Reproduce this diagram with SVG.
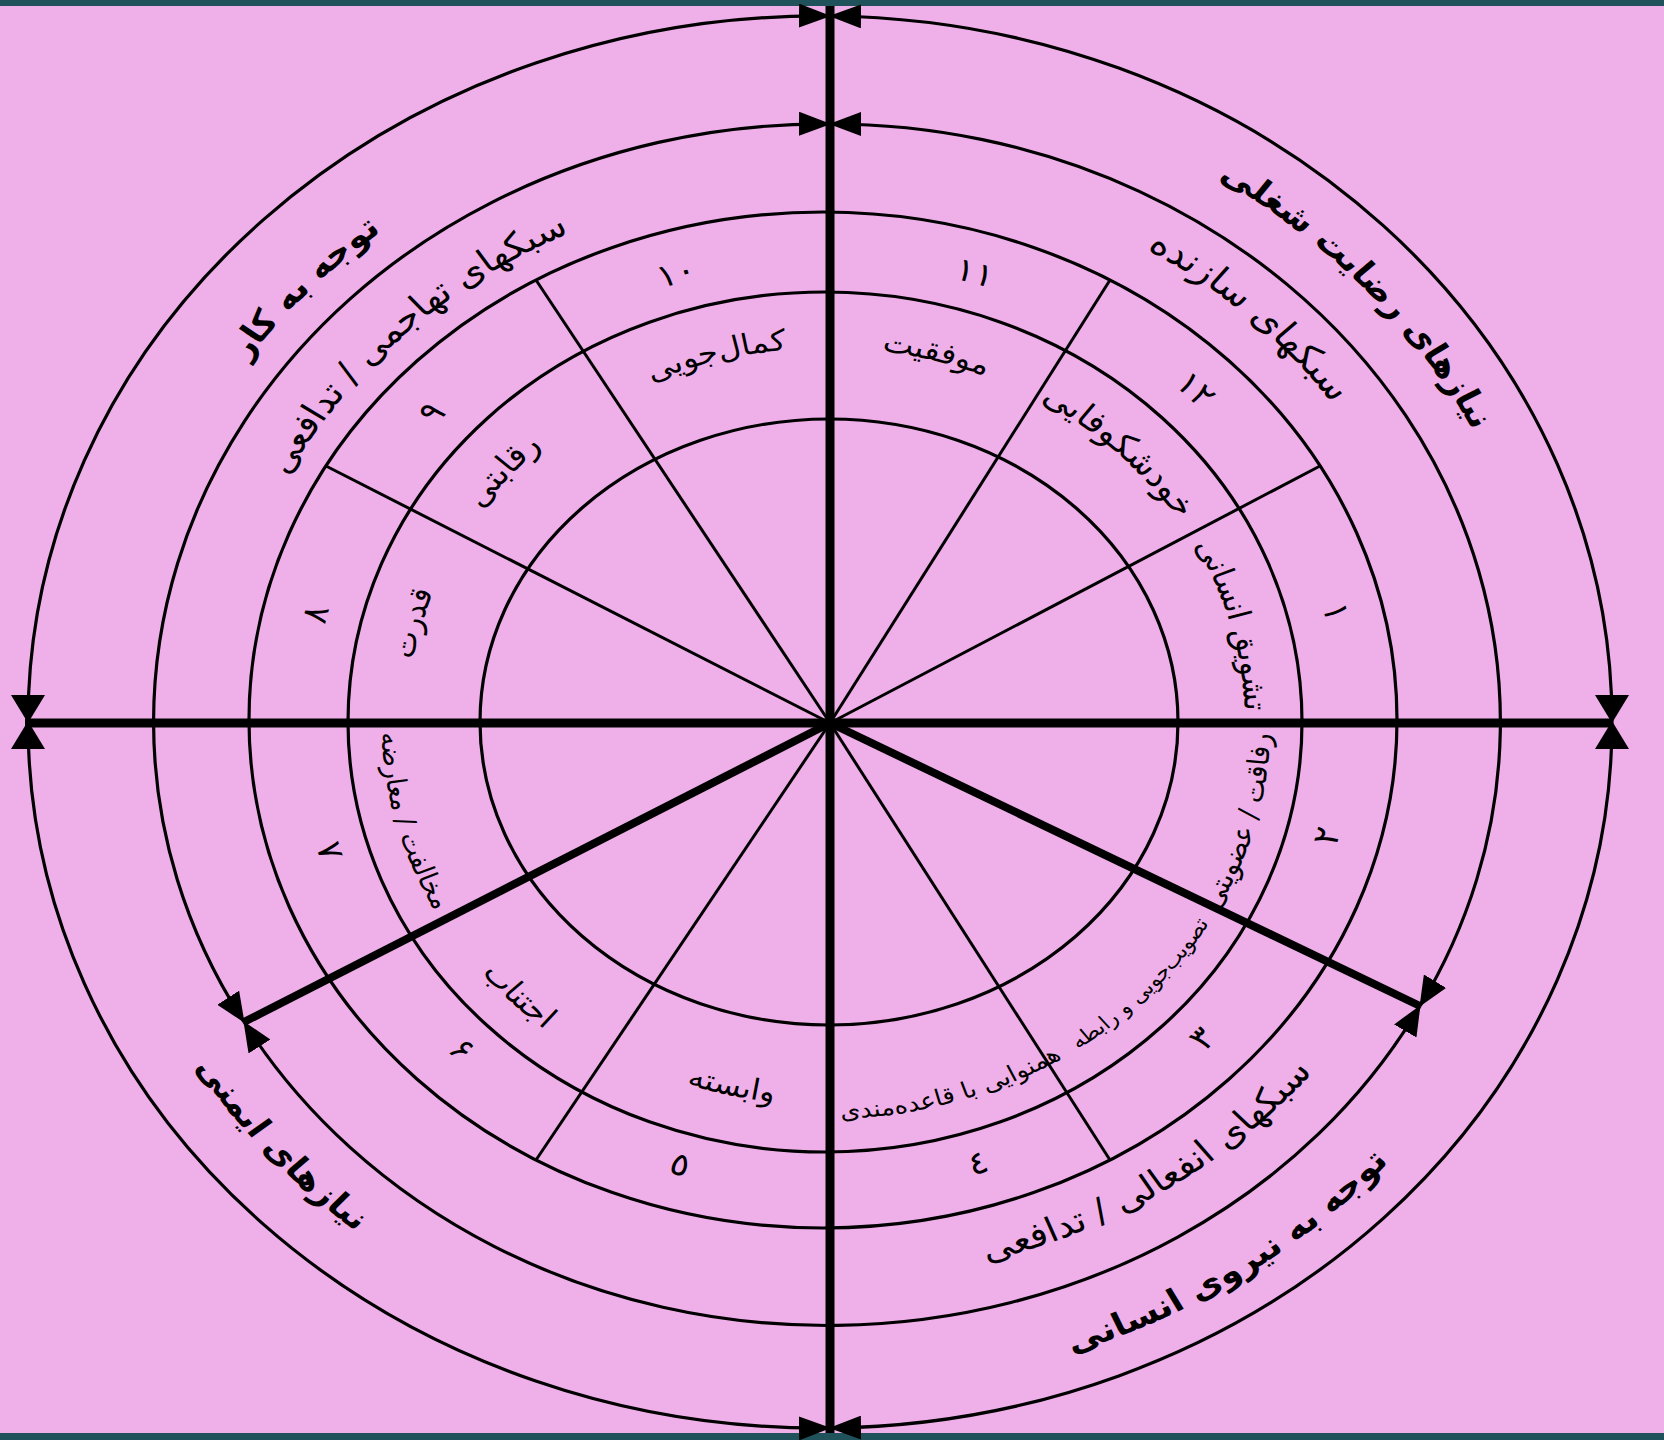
<svg xmlns="http://www.w3.org/2000/svg" width="1664" height="1440" viewBox="0 0 1664 1440">
<defs>
<style>
.bg{fill:#EFB0EA}
.band{fill:#1F525A}
.el{fill:none;stroke:#000;stroke-width:3.2}
.arc{fill:none;stroke:#000;stroke-width:3.2}
.thin{stroke:#000;stroke-width:3}
.thick{stroke:#000;stroke-width:9}
.diag{stroke:#000;stroke-width:8}
text{font-family:'DejaVu Sans','Noto Sans',sans-serif;fill:#000;text-anchor:middle}
.t-out{font-size:32px;font-weight:bold}
.t-mid{font-size:34px}
.t-num{font-size:32px}
.t-lab{font-size:29px}
</style>
<marker id="ah" viewBox="0 0 32 24" refX="31" refY="12" markerWidth="32" markerHeight="24" markerUnits="userSpaceOnUse" orient="auto-start-reverse"><path d="M0,0L32,12L0,24Z" fill="#000"/></marker>
<marker id="av" viewBox="0 0 28 34" refX="27" refY="17" markerWidth="28" markerHeight="34" markerUnits="userSpaceOnUse" orient="auto-start-reverse"><path d="M0,0L28,17L0,34Z" fill="#000"/></marker>
<marker id="ad" viewBox="0 0 30 26" refX="29" refY="13" markerWidth="30" markerHeight="26" markerUnits="userSpaceOnUse" orient="auto-start-reverse"><path d="M0,0L30,13L0,26Z" fill="#000"/></marker>
<path id="pOutU" d="M-483.4,-405.6 A631,631 0 0 1 483.4,-405.6"/>
<path id="pOutU2" d="M-495.6,-415.9 A647,647 0 0 1 495.6,-415.9"/>
<path id="pOutL" d="M-511.7,429.4 A668,668 0 0 0 511.7,429.4"/>
<path id="pOutL2" d="M-505.6,424.2 A660,660 0 0 0 505.6,424.2"/>
<path id="pMidU1" d="M-423.6,-355.5 A553,553 0 0 1 423.6,-355.5"/>
<path id="pMidU2" d="M-413.6,-347.1 A540,540 0 0 1 413.6,-347.1"/>
<path id="pMidL" d="M-427.4,358.7 A558,558 0 0 0 427.4,358.7"/>
<path id="pNumU" d="M-350.8,-294.4 A458,458 0 0 1 350.8,-294.4"/>
<path id="pNumL" d="M-361.6,303.4 A472,472 0 0 0 361.6,303.4"/>
<path id="pLabU" d="M-286.5,-240.4 A374,374 0 0 1 286.5,-240.4"/>
<path id="pLabL" d="M-304.1,255.2 A397,397 0 0 0 304.1,255.2"/>
<path id="pLabL2" d="M-293.4,246.2 A383,383 0 0 0 293.4,246.2"/>
</defs>

<g id="background">
<rect class="bg" x="0" y="0" width="1664" height="1440"/>
<rect class="band" x="0" y="0" width="1664" height="6"/>
<rect class="band" x="0" y="1433" width="1664" height="7"/>
</g>

<g id="rings">
<ellipse id="ring3" class="el" cx="823" cy="720" rx="574" ry="508"/>
<ellipse id="ring4" class="el" cx="825" cy="722" rx="477" ry="430"/>
<ellipse id="ring5" class="el" cx="829" cy="722" rx="349" ry="303"/>
</g>

<g id="connectors">
<line class="thin" x1="830" y1="723" x2="1320" y2="466"/>
<line class="thin" x1="830" y1="723" x2="1110" y2="280"/>
<line class="thin" x1="830" y1="723" x2="536" y2="280"/>
<line class="thin" x1="830" y1="723" x2="326" y2="466"/>
<line class="thin" x1="830" y1="723" x2="536" y2="1160"/>
<line class="thin" x1="830" y1="723" x2="1110" y2="1160"/>
<line class="thick" x1="25" y1="723" x2="1613" y2="723"/>
<line class="thick" x1="830" y1="6" x2="830" y2="1433"/>
<line class="diag" x1="830" y1="723" x2="244" y2="1022"/>
<line class="diag" x1="830" y1="723" x2="1420" y2="1006"/>
<path class="arc" d="M830,16 A792,706 0 0 1 1612,722" marker-start="url(#ah)" marker-end="url(#av)"/>
<path class="arc" d="M1612,722 A792,706 0 0 1 830,1428" marker-start="url(#av)" marker-end="url(#ah)"/>
<path class="arc" d="M830,1428 A792,706 0 0 1 28,722" marker-start="url(#ah)" marker-end="url(#av)"/>
<path class="arc" d="M28,722 A792,706 0 0 1 830,16" marker-start="url(#av)" marker-end="url(#ah)"/>
<path class="arc" d="M830,124 A670,598 0 0 1 1420,1006" marker-start="url(#ah)" marker-end="url(#ad)"/>
<path class="arc" d="M1420,1006 A670,598 0 0 1 244,1022" marker-start="url(#ad)" marker-end="url(#ad)"/>
<path class="arc" d="M244,1022 A670,598 0 0 1 830,124" marker-start="url(#ad)" marker-end="url(#ah)"/>
</g>

<g id="labels" transform="translate(826,722) scale(1.12,1)">
<g id="outer-texts">
<text class="t-out" transform="rotate(-47)"><textPath href="#pOutU" startOffset="50%">توجه به کار</textPath></text>
<text class="t-out" transform="rotate(48)"><textPath href="#pOutU2" startOffset="50%">نیازهای رضایت شغلی</textPath></text>
<text class="t-out" transform="rotate(-34)"><textPath href="#pOutL" startOffset="50%">توجه به نیروی انسانی</textPath></text>
<text class="t-out" transform="rotate(49)"><textPath href="#pOutL2" startOffset="50%">نیازهای ایمنی</textPath></text>
</g>
<g id="style-groups">
<text class="t-mid" transform="rotate(43)" style="font-size:35px"><textPath href="#pMidU1" startOffset="50%">سبکهای سازنده</textPath></text>
<text class="t-mid" transform="rotate(-44)"><textPath href="#pMidU2" startOffset="50%">سبکهای تهاجمی / تدافعی</textPath></text>
<text class="t-mid" transform="rotate(-33)"><textPath href="#pMidL" startOffset="50%">سبکهای انفعالی / تدافعی</textPath></text>
</g>
<g id="numbers">
<text class="t-num" transform="rotate(76.4)"><textPath href="#pNumU" startOffset="50%">۱</textPath></text>
<text class="t-num" transform="rotate(44.8)"><textPath href="#pNumU" startOffset="50%">۱۲</textPath></text>
<text class="t-num" transform="rotate(16.5)"><textPath href="#pNumU" startOffset="50%">۱۱</textPath></text>
<text class="t-num" transform="rotate(-16.6)"><textPath href="#pNumU" startOffset="50%">۱۰</textPath></text>
<text class="t-num" transform="rotate(-48.7)"><textPath href="#pNumU" startOffset="50%">۹</textPath></text>
<text class="t-num" transform="rotate(-76.7)"><textPath href="#pNumU" startOffset="50%">۸</textPath></text>
<text class="t-num" transform="rotate(-75.7)"><textPath href="#pNumL" startOffset="50%">۲</textPath></text>
<text class="t-num" transform="rotate(-46.7)"><textPath href="#pNumL" startOffset="50%">۳</textPath></text>
<text class="t-num" transform="rotate(-17.1)"><textPath href="#pNumL" startOffset="50%">٤</textPath></text>
<text class="t-num" transform="rotate(16.4)"><textPath href="#pNumL" startOffset="50%">٥</textPath></text>
<text class="t-num" transform="rotate(44.8)"><textPath href="#pNumL" startOffset="50%">۶</textPath></text>
<text class="t-num" transform="rotate(73.8)"><textPath href="#pNumL" startOffset="50%">۷</textPath></text>
</g>
<g id="style-names">
<text class="t-lab" transform="rotate(75)"><textPath href="#pLabU" startOffset="50%">تشویق انسانی</textPath></text>
<text class="t-lab" transform="rotate(44)" style="font-size:32px"><textPath href="#pLabU" startOffset="50%">خودشکوفایی</textPath></text>
<text class="t-lab" transform="rotate(15)"><textPath href="#pLabU" startOffset="50%">موفقیت</textPath></text>
<text class="t-lab" transform="rotate(-15)"><textPath href="#pLabU" startOffset="50%">کمال‌جویی</textPath></text>
<text class="t-lab" transform="rotate(-49)" style="font-size:31px"><textPath href="#pLabU" startOffset="50%">رقابتی</textPath></text>
<text class="t-lab" transform="rotate(-75)"><textPath href="#pLabU" startOffset="50%">قدرت</textPath></text>
<text class="t-lab" transform="rotate(-75)" style="font-size:26px"><textPath href="#pLabL" startOffset="50%">رفاقت / عضویتی</textPath></text>
<text class="t-lab" transform="rotate(-47)" style="font-size:20px"><textPath href="#pLabL" startOffset="50%">تصویب‌جویی و رابطه</textPath></text>
<text class="t-lab" transform="rotate(-17)" style="font-size:23px"><textPath href="#pLabL" startOffset="50%">همنوایی با قاعده‌مندی</textPath></text>
<text class="t-lab" transform="rotate(13)"><textPath href="#pLabL2" startOffset="50%">وابسته</textPath></text>
<text class="t-lab" transform="rotate(45)"><textPath href="#pLabL" startOffset="50%">اجتناب</textPath></text>
<text class="t-lab" transform="rotate(75)" style="font-size:25px"><textPath href="#pLabL" startOffset="50%">مخالفت / معارضه</textPath></text>
</g>
</g>
</svg>
